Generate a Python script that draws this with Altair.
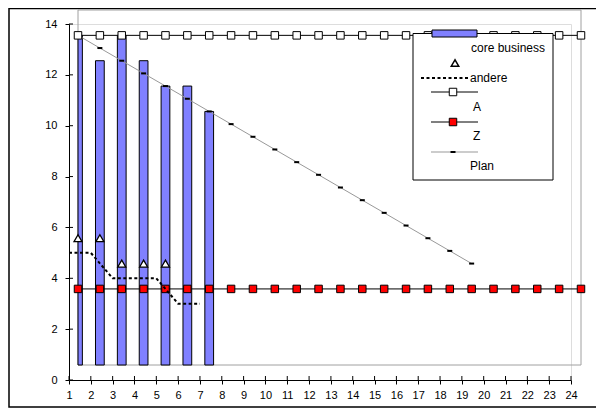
import altair as alt
import pandas as pd

# ---------------- data ----------------
categories = list(range(1, 25))
core_cats = [1, 2, 3, 4, 5, 6, 7]
core_business = [13, 12, 13, 12, 11, 11, 10]
andere_marker_cats = [1, 2, 3, 4, 5]
andere_marker = [5, 5, 4, 4, 4]
andere_cats = [1, 2, 3, 4, 5, 6, 7]
andere = [5, 5, 4, 4, 4, 3, 3]
A_vals = [13, 13, 13, 13, 13, 13, 13, 13, 13, 13, 13, 13,
          13, 13, 13, 13, 13, 13, 13, 13, 13, 13, 13, 13]
Z_vals = [3, 3, 3, 3, 3, 3, 3, 3, 3, 3, 3, 3,
          3, 3, 3, 3, 3, 3, 3, 3, 3, 3, 3, 3]
plan_cats = list(range(1, 20))
plan = [13, 12.5, 12, 11.5, 11, 10.5, 10, 9.5, 9, 8.5, 8, 7.5, 7, 6.5,
        6, 5.5, 5, 4.5, 4]
y_ticks = [0, 2, 4, 6, 8, 10, 12, 14]
x_ticks = categories
legend_labels = ["core business", "andere", "A", "Z", "Plan"]

x_domain = [1, 24]
y_domain = [0, 14]

W, H = 502, 356
FONT = "Liberation Sans"
BAR_COLOR = "#8080ff"
GRAY = "#a0a0a0"
PLAN_GRAY = "#999999"

# ---------------- scales ----------------
sx = alt.Scale(domain=x_domain, range=[9, 512], clamp=True, nice=False, zero=False)
sy = alt.Scale(domain=y_domain, range=[341, -14], nice=False, zero=False)
px = alt.Scale(domain=x_domain, nice=False, zero=False)
py = alt.Scale(domain=y_domain, nice=False, zero=False)

x_axis = alt.Axis(orient="bottom", values=x_ticks, format="d", tickSize=4,
                  tickColor="black", domainColor="black", labelColor="black",
                  labelFont=FONT, labelFontSize=11, labelPadding=5, title=None,
                  grid=False, labelFlush=False, labelOverlap=False)
y_axis = alt.Axis(orient="left", values=y_ticks, format="d", tickSize=4,
                  tickColor="black", domainColor="black", labelColor="black",
                  labelFont=FONT, labelFontSize=11, labelPadding=8, title=None,
                  grid=False, labelOverlap=False)

df_core = pd.DataFrame({"cat": core_cats, "v": core_business})
df_A = pd.DataFrame({"cat": categories, "v": A_vals})
df_Z = pd.DataFrame({"cat": categories, "v": Z_vals})
df_plan = pd.DataFrame({"cat": plan_cats, "v": plan})
df_tri = pd.DataFrame({"cat": andere_marker_cats, "v": andere_marker})
df_and = pd.DataFrame({"cat": andere_cats, "v": andere})
df_box = pd.DataFrame({"x1": [x_domain[0]], "x2": [x_domain[1]],
                       "y1": [y_domain[0]], "y2": [y_domain[1]]})
df_yt = pd.DataFrame({"t": y_ticks})
df_xt = pd.DataFrame({"t": x_ticks})
one = pd.DataFrame({"k": [0]})

# ---------------- secondary plot area ----------------
gray_rect = alt.Chart(df_box).mark_rect(fillOpacity=0, stroke=GRAY, strokeWidth=1).encode(
    x=alt.X("x1:Q", scale=sx, axis=None), x2="x2:Q",
    y=alt.Y("y1:Q", scale=sy, axis=None), y2="y2:Q")

bars = alt.Chart(df_core).transform_calculate(
    x0="datum.cat - 0.2", x1="datum.cat + 0.2", base="0"
).mark_rect(fill=BAR_COLOR, stroke="black", strokeWidth=1).encode(
    x=alt.X("x0:Q", scale=sx, axis=None), x2="x1:Q",
    y=alt.Y("v:Q", scale=sy, axis=None), y2="base:Q")

def line(df, color, width=1):
    return alt.Chart(df).mark_line(color=color, strokeWidth=width).encode(
        x=alt.X("cat:Q", scale=sx, axis=None),
        y=alt.Y("v:Q", scale=sy, axis=None))

def pts(df, shape, fill, size, stroke="black", sw=1):
    return alt.Chart(df).mark_point(shape=shape, filled=True, fill=fill, stroke=stroke,
                                    strokeWidth=sw, size=size, opacity=1).encode(
        x=alt.X("cat:Q", scale=sx, axis=None),
        y=alt.Y("v:Q", scale=sy, axis=None))

DASH = "M-1,-0.4H1V0.4H-1Z"

sec = alt.layer(
    gray_rect, bars,
    line(df_plan, PLAN_GRAY), pts(df_plan, DASH, "black", 25, sw=0),
    line(df_Z, "black"), pts(df_Z, "square", "#ff0000", 56),
    line(df_A, "black"), pts(df_A, "square", "white", 56),
    pts(df_tri, "triangle-up", "white", 64, sw=1.3),
)

# ---------------- primary plot area ----------------
andere_line = alt.Chart(df_and).mark_line(color="black", strokeDash=[3, 2.5], strokeWidth=2).encode(
    x=alt.X("cat:Q", scale=px, axis=x_axis),
    y=alt.Y("v:Q", scale=py, axis=y_axis))
ytick_in = alt.Chart(df_yt).mark_rule(color="black", strokeWidth=1).encode(
    y=alt.Y("t:Q", scale=py, axis=y_axis), x=alt.value(0), x2=alt.value(4))
xtick_in = alt.Chart(df_xt).mark_rule(color="black", strokeWidth=1).encode(
    x=alt.X("t:Q", scale=px, axis=x_axis), y=alt.value(H - 4), y2=alt.value(H))

pri = alt.layer(ytick_in, xtick_in, andere_line)

# ---------------- chart border ----------------
border = alt.Chart(one).mark_rect(fillOpacity=0, stroke="black", strokeWidth=1.5).encode(
    x=alt.value(-60), x2=alt.value(560), y=alt.value(-15.5), y2=alt.value(383))

# ---------------- legend (drawn like the original) ----------------
def vrect(x1, x2, y1, y2, **kw):
    return alt.Chart(one).mark_rect(**kw).encode(
        x=alt.value(x1), x2=alt.value(x2), y=alt.value(y1), y2=alt.value(y2))

def vrule(x1, x2, y, **kw):
    return alt.Chart(one).mark_rule(**kw).encode(
        x=alt.value(x1), x2=alt.value(x2), y=alt.value(y))

def vpt(x, y, shape, fill, size, sw=1):
    return alt.Chart(one).mark_point(shape=shape, filled=True, fill=fill, stroke="black",
                                     strokeWidth=sw, size=size, opacity=1).encode(
        x=alt.value(x), y=alt.value(y))

def vtext(x, y, s):
    return alt.Chart(one).mark_text(text=s, align="left", baseline="middle", font=FONT,
                                    fontSize=12, color="black").encode(
        x=alt.value(x), y=alt.value(y))

legend = alt.layer(
    vrect(344, 484, 9.5, 156, fill="white", stroke="black", strokeWidth=1),
    vrect(363, 408, 6, 13, fill=BAR_COLOR, stroke="black", strokeWidth=1),
    vtext(402, 24, legend_labels[0]),
    vpt(386, 39, "triangle-up", "white", 56, sw=1.5),
    vrule(352, 399, 54, color="black", strokeDash=[3, 2.5], strokeWidth=2),
    vtext(401, 54, legend_labels[1]),
    vrule(362, 409, 68, color="black", strokeWidth=1),
    vpt(384, 68, "square", "white", 56),
    vtext(404, 83, legend_labels[2]),
    vrule(362, 409, 98, color="black", strokeWidth=1),
    vpt(384, 98, "square", "#ff0000", 56),
    vtext(404, 112, legend_labels[3]),
    vrule(362, 409, 128, color=PLAN_GRAY, strokeWidth=1),
    vpt(384, 128, DASH, "black", 25, sw=0),
    vtext(401, 142, legend_labels[4]),
)

chart = alt.layer(border, sec, pri, legend).resolve_scale(
    x="independent", y="independent"
).properties(
    width=W, height=H,
    autosize=alt.AutoSizeParams(type="none"),
    padding={"left": 61, "top": 16, "right": 25, "bottom": 28},
).configure_view(stroke="black", strokeWidth=1).configure(background="white")

chart.save("out.html", embed_options={"renderer": "svg", "actions": False})
